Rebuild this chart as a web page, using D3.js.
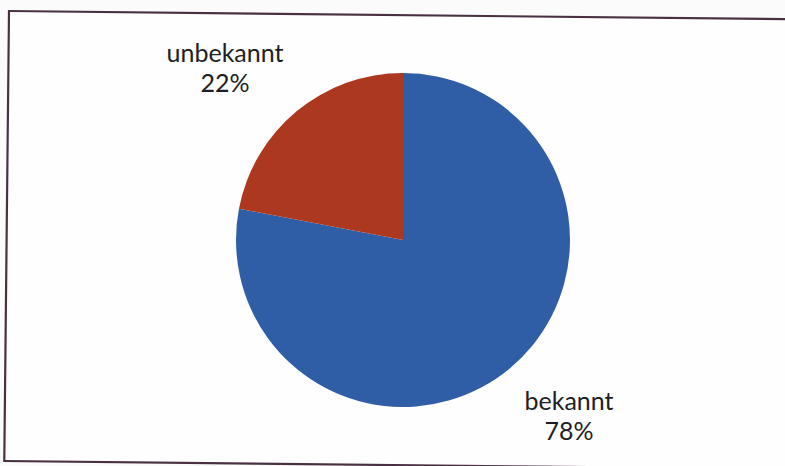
<!DOCTYPE html>
<html>
<head>
<meta charset="utf-8">
<script src="https://cdn.jsdelivr.net/npm/d3@7"></script>
<style>
  html, body { margin: 0; padding: 0; background: #fbfbfb; }
  svg { display: block; }
</style>
</head>
<body>
<svg id="chart" width="785" height="466"></svg>
<script>
// Share of cases by status
const categories = ["bekannt", "unbekannt"];
const values = [78, 22];
const valueLabels = ["78%", "22%"];
const colors = ["#2f5da6", "#ad3820"];

const svg = d3.select("#chart");

// Frame around the chart area (slightly rotated as on the printed page)
svg.append("rect")
  .attr("x", 9).attr("y", 11)
  .attr("width", 800).attr("height", 450)
  .attr("fill", "#fefefe")
  .attr("stroke", "#4a3142")
  .attr("stroke-width", 2.2)
  .attr("transform", "rotate(0.6 9 11)");

const cx = 403, cy = 240, r = 167;

const pie = d3.pie().sort(null).value(d => d.value);
const arc = d3.arc().innerRadius(0).outerRadius(r);

const data = categories.map((c, i) => ({ name: c, value: values[i], label: valueLabels[i], color: colors[i] }));
const arcs = pie(data);

const g = svg.append("g").attr("transform", `translate(${cx},${cy})`);
g.selectAll("path")
  .data(arcs)
  .join("path")
  .attr("d", arc)
  .attr("fill", d => d.data.color);

// Data labels outside the slices
const labelPos = {
  "bekannt": [166, 170],
  "unbekannt": [-178, -178]
};
const labels = g.selectAll("text.lbl")
  .data(arcs)
  .join("text")
  .attr("class", "lbl")
  .attr("text-anchor", "middle")
  .attr("font-family", "Lato, 'Open Sans', sans-serif")
  .attr("font-size", 25)
  .attr("fill", "#1e1e24");
labels.append("tspan")
  .attr("x", d => labelPos[d.data.name][0])
  .attr("y", d => labelPos[d.data.name][1])
  .text(d => d.data.name);
labels.append("tspan")
  .attr("x", d => labelPos[d.data.name][0])
  .attr("dy", 30)
  .text(d => d.data.label);
</script>
</body>
</html>
